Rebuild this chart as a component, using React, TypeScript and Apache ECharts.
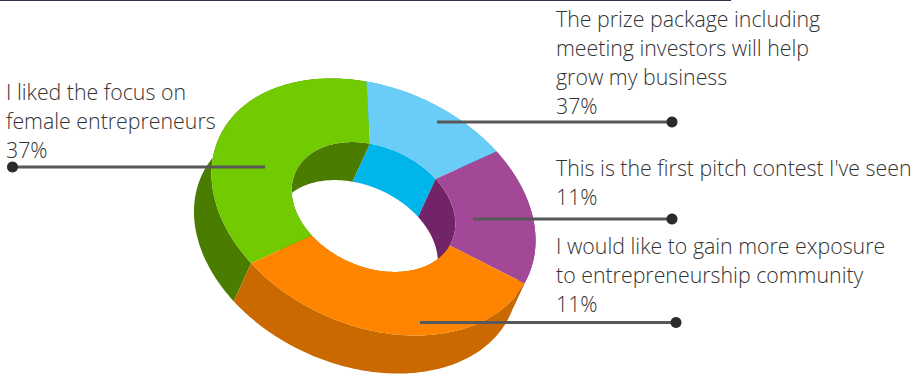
import React, { useEffect, useRef } from "react";
import * as echarts from "echarts";

// Order: clockwise from the green slice.
const categories = [
  "I liked the focus on\nfemale entrepreneurs",
  "The prize package including\nmeeting investors will help\ngrow my business",
  "This is the first pitch contest I've seen",
  "I would like to gain more exposure\nto entrepreneurship community",
];
// The percentages printed on the reference.
const printedPercents = [37, 37, 11, 11];
// Slice sizes as drawn in the reference (they differ from the printed figures).
const drawnShares = [35.7, 14.4, 17.2, 32.7];

const topColors = ["#72cb00", "#69cdf8", "#a24896", "#ff8500"];
const innerWallColors = ["#4a7c00", "#00b5e9", "#722468", "#c96900"];
const outerWallColors = ["#4a7c00", "#00b5e9", "#722468", "#c96900"];

// Projection of the ring
const CX = 373.5;
const CY = 207;
const MAJOR = 169.3;
const MINOR = 118.8;
const TILT = (24 * Math.PI) / 180;
const INNER = 0.505;
const DEPTH_X = -17.5;
const DEPTH_Y = 38;
const START_DEG = -109.8; // angle of the green / blue border

const FONT = '"Open Sans", sans-serif';

const project = (deg: number, r: number, dx = 0, dy = 0): number[] => {
  const t = (deg * Math.PI) / 180;
  const u = MAJOR * r * Math.cos(t);
  const v = MINOR * r * Math.sin(t);
  return [
    CX + u * Math.cos(TILT) - v * Math.sin(TILT) + dx,
    CY + u * Math.sin(TILT) + v * Math.cos(TILT) + dy,
  ];
};

// Slices run clockwise; green ends at START_DEG, so it begins one full share earlier.
const sweep = (index: number): [number, number] => {
  const total = drawnShares.reduce((a, b) => a + b, 0);
  const deg = (v: number) => (v / total) * 360;
  let a = START_DEG - deg(drawnShares[0]);
  for (let i = 0; i < index; i++) a += deg(drawnShares[i]);
  return [a, a + deg(drawnShares[index])];
};

const arc = (a: number, b: number, r: number, dx = 0, dy = 0): number[][] => {
  const n = Math.max(2, Math.ceil(Math.abs(b - a)));
  const pts: number[][] = [];
  for (let i = 0; i <= n; i++) pts.push(project(a + ((b - a) * i) / n, r, dx, dy));
  return pts;
};

const wall = (r: number, colors: string[]) => (params: any) => {
  const i = params.dataIndex;
  const [a, b] = sweep(i);
  return {
    type: "polygon",
    shape: { points: [...arc(a, b, r), ...arc(b, a, r, DEPTH_X, DEPTH_Y)] },
    style: { fill: colors[i] },
  };
};

const face = (params: any) => {
  const i = params.dataIndex;
  const [a, b] = sweep(i);
  return {
    type: "polygon",
    shape: { points: [...arc(a, b, 1), ...arc(b, a, INNER)] },
    style: { fill: topColors[i] },
  };
};

const leader = (x1: number, x2: number, y: number, dotX: number) => [
  {
    type: "line",
    z: 20,
    shape: { x1, y1: y, x2, y2: y },
    style: { stroke: "#58585a", lineWidth: 3 },
  },
  {
    type: "circle",
    z: 21,
    shape: { cx: dotX, cy: y, r: 5.5 },
    style: { fill: "#2b2a2c" },
  },
];

const label = (i: number, x: number, top: number) => ({
  type: "text",
  z: 22,
  x,
  y: top,
  style: {
    text: `${categories[i]}\n${printedPercents[i]}%`,
    font: `300 21.33px ${FONT}`,
    lineHeight: 29,
    fill: "#333333",
    align: "left",
    verticalAlign: "top",
  },
});

export default function App() {
  const ref = useRef<HTMLDivElement>(null);
  useEffect(() => {
    document.body.style.margin = "0";
    const chart = echarts.init(ref.current!, undefined, { renderer: "svg" });
    const data = drawnShares.map((v, i) => ({ name: categories[i], value: v }));
    chart.setOption({
      animation: false,
      backgroundColor: "#ffffff",
      series: [
        { type: "custom", coordinateSystem: "none", silent: true, z: 1, data, renderItem: wall(1, outerWallColors) },
        { type: "custom", coordinateSystem: "none", silent: true, z: 2, data, renderItem: wall(INNER, innerWallColors) },
        { type: "custom", coordinateSystem: "none", silent: true, z: 3, data, renderItem: face },
      ],
      graphic: {
        elements: [
          {
            type: "line",
            z: 20,
            shape: { x1: 0, y1: 0, x2: 731, y2: 0 },
            style: { stroke: "#2d3349", lineWidth: 2 },
          },
          ...leader(12, 265, 167, 12.5),
          ...leader(437, 672, 122, 672),
          ...leader(473, 672, 219, 672),
          ...leader(420, 676, 322.5, 676),
          label(0, 6, 77),
          label(1, 556, 4),
          label(2, 556, 153),
          label(3, 556, 231),
        ],
      },
    });
    return () => chart.dispose();
  }, []);
  return <div ref={ref} style={{ position: "fixed", left: 0, top: 0, width: 912, height: 377 }} />;
}
